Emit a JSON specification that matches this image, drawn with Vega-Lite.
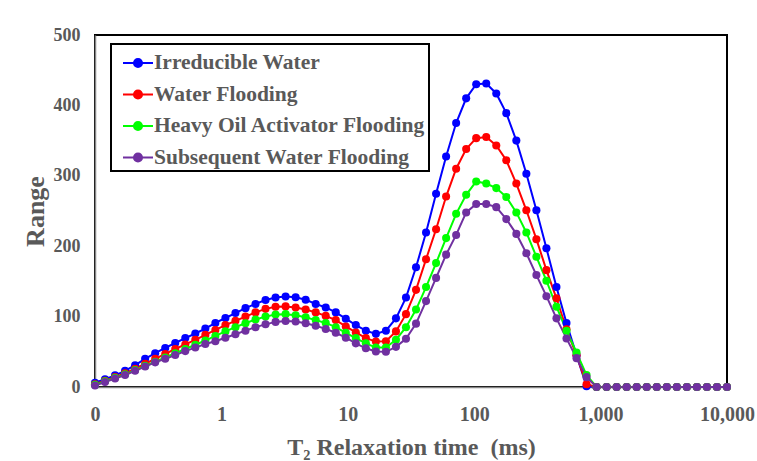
{
  "$schema": "https://vega.github.io/schema/vega-lite/v6.json",
  "width": 632,
  "height": 352,
  "autosize": "none",
  "padding": {"left": 95, "top": 35, "right": 30, "bottom": 74},
  "background": "white",
  "config": {
    "view": {"stroke": "black", "strokeWidth": 2},
    "font": "Liberation Serif"
  },
  "datasets": {
    "nmr": [
      {"T2":0.1,"Series":"Irreducible Water","Amplitude":6},{"T2":0.12,"Series":"Irreducible Water","Amplitude":11},{"T2":0.1441,"Series":"Irreducible Water","Amplitude":16.5},{"T2":0.1729,"Series":"Irreducible Water","Amplitude":23},{"T2":0.2076,"Series":"Irreducible Water","Amplitude":31},{"T2":0.2492,"Series":"Irreducible Water","Amplitude":40},{"T2":0.2993,"Series":"Irreducible Water","Amplitude":48},{"T2":0.3594,"Series":"Irreducible Water","Amplitude":55.5},{"T2":0.4313,"Series":"Irreducible Water","Amplitude":62.5},{"T2":0.5179,"Series":"Irreducible Water","Amplitude":69.5},
      {"T2":0.6217,"Series":"Irreducible Water","Amplitude":76},{"T2":0.7464,"Series":"Irreducible Water","Amplitude":83},{"T2":0.896,"Series":"Irreducible Water","Amplitude":91},{"T2":1.0758,"Series":"Irreducible Water","Amplitude":98},{"T2":1.2915,"Series":"Irreducible Water","Amplitude":105},{"T2":1.5505,"Series":"Irreducible Water","Amplitude":112},{"T2":1.8613,"Series":"Irreducible Water","Amplitude":118},{"T2":2.2346,"Series":"Irreducible Water","Amplitude":123.5},{"T2":2.6827,"Series":"Irreducible Water","Amplitude":127},{"T2":3.2206,"Series":"Irreducible Water","Amplitude":128.5},
      {"T2":3.8664,"Series":"Irreducible Water","Amplitude":127.5},{"T2":4.6416,"Series":"Irreducible Water","Amplitude":124},{"T2":5.5722,"Series":"Irreducible Water","Amplitude":118},{"T2":6.6897,"Series":"Irreducible Water","Amplitude":113},{"T2":8.0312,"Series":"Irreducible Water","Amplitude":106},{"T2":9.6412,"Series":"Irreducible Water","Amplitude":97},{"T2":11.575,"Series":"Irreducible Water","Amplitude":88},{"T2":13.895,"Series":"Irreducible Water","Amplitude":80},{"T2":16.681,"Series":"Irreducible Water","Amplitude":75.5},{"T2":20.026,"Series":"Irreducible Water","Amplitude":80},
      {"T2":24.041,"Series":"Irreducible Water","Amplitude":97.5},{"T2":28.862,"Series":"Irreducible Water","Amplitude":127},{"T2":34.649,"Series":"Irreducible Water","Amplitude":170},{"T2":41.595,"Series":"Irreducible Water","Amplitude":219.5},{"T2":49.935,"Series":"Irreducible Water","Amplitude":274.5},{"T2":59.948,"Series":"Irreducible Water","Amplitude":327.5},{"T2":71.969,"Series":"Irreducible Water","Amplitude":375},{"T2":86.4,"Series":"Irreducible Water","Amplitude":410},{"T2":103.72,"Series":"Irreducible Water","Amplitude":430},{"T2":124.52,"Series":"Irreducible Water","Amplitude":431},
      {"T2":149.49,"Series":"Irreducible Water","Amplitude":417},{"T2":179.46,"Series":"Irreducible Water","Amplitude":389},{"T2":215.44,"Series":"Irreducible Water","Amplitude":350},{"T2":258.64,"Series":"Irreducible Water","Amplitude":303},{"T2":310.5,"Series":"Irreducible Water","Amplitude":251},{"T2":372.76,"Series":"Irreducible Water","Amplitude":197},{"T2":447.5,"Series":"Irreducible Water","Amplitude":142},{"T2":537.23,"Series":"Irreducible Water","Amplitude":91},{"T2":644.95,"Series":"Irreducible Water","Amplitude":45},{"T2":774.26,"Series":"Irreducible Water","Amplitude":1},
      {"T2":929.51,"Series":"Irreducible Water","Amplitude":0},{"T2":1115.9,"Series":"Irreducible Water","Amplitude":0},{"T2":1339.6,"Series":"Irreducible Water","Amplitude":0},{"T2":1608.2,"Series":"Irreducible Water","Amplitude":0},{"T2":1930.7,"Series":"Irreducible Water","Amplitude":0},{"T2":2317.9,"Series":"Irreducible Water","Amplitude":0},{"T2":2782.6,"Series":"Irreducible Water","Amplitude":0},{"T2":3340.6,"Series":"Irreducible Water","Amplitude":0},{"T2":4010.4,"Series":"Irreducible Water","Amplitude":0},{"T2":4814.5,"Series":"Irreducible Water","Amplitude":0},{"T2":5779.9,"Series":"Irreducible Water","Amplitude":0},{"T2":6938.9,"Series":"Irreducible Water","Amplitude":0},{"T2":8330.1,"Series":"Irreducible Water","Amplitude":0},{"T2":10000,"Series":"Irreducible Water","Amplitude":0},

      {"T2":0.1,"Series":"Water Flooding","Amplitude":4},{"T2":0.12,"Series":"Water Flooding","Amplitude":9},{"T2":0.1441,"Series":"Water Flooding","Amplitude":14},{"T2":0.1729,"Series":"Water Flooding","Amplitude":19.5},{"T2":0.2076,"Series":"Water Flooding","Amplitude":26},{"T2":0.2492,"Series":"Water Flooding","Amplitude":33},{"T2":0.2993,"Series":"Water Flooding","Amplitude":40},{"T2":0.3594,"Series":"Water Flooding","Amplitude":47},{"T2":0.4313,"Series":"Water Flooding","Amplitude":54},{"T2":0.5179,"Series":"Water Flooding","Amplitude":60.5},
      {"T2":0.6217,"Series":"Water Flooding","Amplitude":67},{"T2":0.7464,"Series":"Water Flooding","Amplitude":74},{"T2":0.896,"Series":"Water Flooding","Amplitude":81},{"T2":1.0758,"Series":"Water Flooding","Amplitude":88},{"T2":1.2915,"Series":"Water Flooding","Amplitude":94},{"T2":1.5505,"Series":"Water Flooding","Amplitude":100},{"T2":1.8613,"Series":"Water Flooding","Amplitude":106},{"T2":2.2346,"Series":"Water Flooding","Amplitude":111},{"T2":2.6827,"Series":"Water Flooding","Amplitude":114},{"T2":3.2206,"Series":"Water Flooding","Amplitude":114.5},
      {"T2":3.8664,"Series":"Water Flooding","Amplitude":113},{"T2":4.6416,"Series":"Water Flooding","Amplitude":110},{"T2":5.5722,"Series":"Water Flooding","Amplitude":106},{"T2":6.6897,"Series":"Water Flooding","Amplitude":101},{"T2":8.0312,"Series":"Water Flooding","Amplitude":95},{"T2":9.6412,"Series":"Water Flooding","Amplitude":86},{"T2":11.575,"Series":"Water Flooding","Amplitude":77.5},{"T2":13.895,"Series":"Water Flooding","Amplitude":69.5},{"T2":16.681,"Series":"Water Flooding","Amplitude":64.5},{"T2":20.026,"Series":"Water Flooding","Amplitude":65},
      {"T2":24.041,"Series":"Water Flooding","Amplitude":79},{"T2":28.862,"Series":"Water Flooding","Amplitude":103.5},{"T2":34.649,"Series":"Water Flooding","Amplitude":138},{"T2":41.595,"Series":"Water Flooding","Amplitude":181.5},{"T2":49.935,"Series":"Water Flooding","Amplitude":224},{"T2":59.948,"Series":"Water Flooding","Amplitude":270.5},{"T2":71.969,"Series":"Water Flooding","Amplitude":310},{"T2":86.4,"Series":"Water Flooding","Amplitude":338},{"T2":103.72,"Series":"Water Flooding","Amplitude":353.5},{"T2":124.52,"Series":"Water Flooding","Amplitude":355},
      {"T2":149.49,"Series":"Water Flooding","Amplitude":343},{"T2":179.46,"Series":"Water Flooding","Amplitude":322},{"T2":215.44,"Series":"Water Flooding","Amplitude":289},{"T2":258.64,"Series":"Water Flooding","Amplitude":251},{"T2":310.5,"Series":"Water Flooding","Amplitude":210},{"T2":372.76,"Series":"Water Flooding","Amplitude":166},{"T2":447.5,"Series":"Water Flooding","Amplitude":126},{"T2":537.23,"Series":"Water Flooding","Amplitude":82},{"T2":644.95,"Series":"Water Flooding","Amplitude":45},{"T2":774.26,"Series":"Water Flooding","Amplitude":4},
      {"T2":929.51,"Series":"Water Flooding","Amplitude":0},{"T2":1115.9,"Series":"Water Flooding","Amplitude":0},{"T2":1339.6,"Series":"Water Flooding","Amplitude":0},{"T2":1608.2,"Series":"Water Flooding","Amplitude":0},{"T2":1930.7,"Series":"Water Flooding","Amplitude":0},{"T2":2317.9,"Series":"Water Flooding","Amplitude":0},{"T2":2782.6,"Series":"Water Flooding","Amplitude":0},{"T2":3340.6,"Series":"Water Flooding","Amplitude":0},{"T2":4010.4,"Series":"Water Flooding","Amplitude":0},{"T2":4814.5,"Series":"Water Flooding","Amplitude":0},{"T2":5779.9,"Series":"Water Flooding","Amplitude":0},{"T2":6938.9,"Series":"Water Flooding","Amplitude":0},{"T2":8330.1,"Series":"Water Flooding","Amplitude":0},{"T2":10000,"Series":"Water Flooding","Amplitude":0},

      {"T2":0.1,"Series":"Heavy Oil Activator Flooding","Amplitude":3},{"T2":0.12,"Series":"Heavy Oil Activator Flooding","Amplitude":8},{"T2":0.1441,"Series":"Heavy Oil Activator Flooding","Amplitude":13},{"T2":0.1729,"Series":"Heavy Oil Activator Flooding","Amplitude":18},{"T2":0.2076,"Series":"Heavy Oil Activator Flooding","Amplitude":24},{"T2":0.2492,"Series":"Heavy Oil Activator Flooding","Amplitude":30},{"T2":0.2993,"Series":"Heavy Oil Activator Flooding","Amplitude":36},{"T2":0.3594,"Series":"Heavy Oil Activator Flooding","Amplitude":42},{"T2":0.4313,"Series":"Heavy Oil Activator Flooding","Amplitude":48},{"T2":0.5179,"Series":"Heavy Oil Activator Flooding","Amplitude":54},
      {"T2":0.6217,"Series":"Heavy Oil Activator Flooding","Amplitude":60},{"T2":0.7464,"Series":"Heavy Oil Activator Flooding","Amplitude":66},{"T2":0.896,"Series":"Heavy Oil Activator Flooding","Amplitude":72.5},{"T2":1.0758,"Series":"Heavy Oil Activator Flooding","Amplitude":79},{"T2":1.2915,"Series":"Heavy Oil Activator Flooding","Amplitude":85},{"T2":1.5505,"Series":"Heavy Oil Activator Flooding","Amplitude":90.5},{"T2":1.8613,"Series":"Heavy Oil Activator Flooding","Amplitude":96},{"T2":2.2346,"Series":"Heavy Oil Activator Flooding","Amplitude":100},{"T2":2.6827,"Series":"Heavy Oil Activator Flooding","Amplitude":103},{"T2":3.2206,"Series":"Heavy Oil Activator Flooding","Amplitude":103.5},
      {"T2":3.8664,"Series":"Heavy Oil Activator Flooding","Amplitude":102},{"T2":4.6416,"Series":"Heavy Oil Activator Flooding","Amplitude":99},{"T2":5.5722,"Series":"Heavy Oil Activator Flooding","Amplitude":95},{"T2":6.6897,"Series":"Heavy Oil Activator Flooding","Amplitude":91},{"T2":8.0312,"Series":"Heavy Oil Activator Flooding","Amplitude":85},{"T2":9.6412,"Series":"Heavy Oil Activator Flooding","Amplitude":77},{"T2":11.575,"Series":"Heavy Oil Activator Flooding","Amplitude":69.5},{"T2":13.895,"Series":"Heavy Oil Activator Flooding","Amplitude":62},{"T2":16.681,"Series":"Heavy Oil Activator Flooding","Amplitude":56},{"T2":20.026,"Series":"Heavy Oil Activator Flooding","Amplitude":56},
      {"T2":24.041,"Series":"Heavy Oil Activator Flooding","Amplitude":67},{"T2":28.862,"Series":"Heavy Oil Activator Flooding","Amplitude":85},{"T2":34.649,"Series":"Heavy Oil Activator Flooding","Amplitude":110},{"T2":41.595,"Series":"Heavy Oil Activator Flooding","Amplitude":142},{"T2":49.935,"Series":"Heavy Oil Activator Flooding","Amplitude":176},{"T2":59.948,"Series":"Heavy Oil Activator Flooding","Amplitude":211.5},{"T2":71.969,"Series":"Heavy Oil Activator Flooding","Amplitude":246},{"T2":86.4,"Series":"Heavy Oil Activator Flooding","Amplitude":273},{"T2":103.72,"Series":"Heavy Oil Activator Flooding","Amplitude":292},{"T2":124.52,"Series":"Heavy Oil Activator Flooding","Amplitude":289},
      {"T2":149.49,"Series":"Heavy Oil Activator Flooding","Amplitude":282.5},{"T2":179.46,"Series":"Heavy Oil Activator Flooding","Amplitude":270},{"T2":215.44,"Series":"Heavy Oil Activator Flooding","Amplitude":248},{"T2":258.64,"Series":"Heavy Oil Activator Flooding","Amplitude":219.5},{"T2":310.5,"Series":"Heavy Oil Activator Flooding","Amplitude":185},{"T2":372.76,"Series":"Heavy Oil Activator Flooding","Amplitude":151},{"T2":447.5,"Series":"Heavy Oil Activator Flooding","Amplitude":114},{"T2":537.23,"Series":"Heavy Oil Activator Flooding","Amplitude":80},{"T2":644.95,"Series":"Heavy Oil Activator Flooding","Amplitude":49},{"T2":774.26,"Series":"Heavy Oil Activator Flooding","Amplitude":17},
      {"T2":929.51,"Series":"Heavy Oil Activator Flooding","Amplitude":0},{"T2":1115.9,"Series":"Heavy Oil Activator Flooding","Amplitude":0},{"T2":1339.6,"Series":"Heavy Oil Activator Flooding","Amplitude":0},{"T2":1608.2,"Series":"Heavy Oil Activator Flooding","Amplitude":0},{"T2":1930.7,"Series":"Heavy Oil Activator Flooding","Amplitude":0},{"T2":2317.9,"Series":"Heavy Oil Activator Flooding","Amplitude":0},{"T2":2782.6,"Series":"Heavy Oil Activator Flooding","Amplitude":0},{"T2":3340.6,"Series":"Heavy Oil Activator Flooding","Amplitude":0},{"T2":4010.4,"Series":"Heavy Oil Activator Flooding","Amplitude":0},{"T2":4814.5,"Series":"Heavy Oil Activator Flooding","Amplitude":0},{"T2":5779.9,"Series":"Heavy Oil Activator Flooding","Amplitude":0},{"T2":6938.9,"Series":"Heavy Oil Activator Flooding","Amplitude":0},{"T2":8330.1,"Series":"Heavy Oil Activator Flooding","Amplitude":0},{"T2":10000,"Series":"Heavy Oil Activator Flooding","Amplitude":0},

      {"T2":0.1,"Series":"Subsequent Water Flooding","Amplitude":2},{"T2":0.12,"Series":"Subsequent Water Flooding","Amplitude":7},{"T2":0.1441,"Series":"Subsequent Water Flooding","Amplitude":12},{"T2":0.1729,"Series":"Subsequent Water Flooding","Amplitude":17},{"T2":0.2076,"Series":"Subsequent Water Flooding","Amplitude":23},{"T2":0.2492,"Series":"Subsequent Water Flooding","Amplitude":29},{"T2":0.2993,"Series":"Subsequent Water Flooding","Amplitude":35},{"T2":0.3594,"Series":"Subsequent Water Flooding","Amplitude":40},{"T2":0.4313,"Series":"Subsequent Water Flooding","Amplitude":45.5},{"T2":0.5179,"Series":"Subsequent Water Flooding","Amplitude":51},
      {"T2":0.6217,"Series":"Subsequent Water Flooding","Amplitude":56},{"T2":0.7464,"Series":"Subsequent Water Flooding","Amplitude":61},{"T2":0.896,"Series":"Subsequent Water Flooding","Amplitude":65},{"T2":1.0758,"Series":"Subsequent Water Flooding","Amplitude":70},{"T2":1.2915,"Series":"Subsequent Water Flooding","Amplitude":75},{"T2":1.5505,"Series":"Subsequent Water Flooding","Amplitude":80},{"T2":1.8613,"Series":"Subsequent Water Flooding","Amplitude":85},{"T2":2.2346,"Series":"Subsequent Water Flooding","Amplitude":89},{"T2":2.6827,"Series":"Subsequent Water Flooding","Amplitude":92.5},{"T2":3.2206,"Series":"Subsequent Water Flooding","Amplitude":93.7},
      {"T2":3.8664,"Series":"Subsequent Water Flooding","Amplitude":93},{"T2":4.6416,"Series":"Subsequent Water Flooding","Amplitude":90.5},{"T2":5.5722,"Series":"Subsequent Water Flooding","Amplitude":87},{"T2":6.6897,"Series":"Subsequent Water Flooding","Amplitude":82.5},{"T2":8.0312,"Series":"Subsequent Water Flooding","Amplitude":77},{"T2":9.6412,"Series":"Subsequent Water Flooding","Amplitude":70},{"T2":11.575,"Series":"Subsequent Water Flooding","Amplitude":62},{"T2":13.895,"Series":"Subsequent Water Flooding","Amplitude":55},{"T2":16.681,"Series":"Subsequent Water Flooding","Amplitude":50.5},{"T2":20.026,"Series":"Subsequent Water Flooding","Amplitude":50},
      {"T2":24.041,"Series":"Subsequent Water Flooding","Amplitude":57},{"T2":28.862,"Series":"Subsequent Water Flooding","Amplitude":68.5},{"T2":34.649,"Series":"Subsequent Water Flooding","Amplitude":90},{"T2":41.595,"Series":"Subsequent Water Flooding","Amplitude":122},{"T2":49.935,"Series":"Subsequent Water Flooding","Amplitude":155},{"T2":59.948,"Series":"Subsequent Water Flooding","Amplitude":188},{"T2":71.969,"Series":"Subsequent Water Flooding","Amplitude":216},{"T2":86.4,"Series":"Subsequent Water Flooding","Amplitude":248},{"T2":103.72,"Series":"Subsequent Water Flooding","Amplitude":260},{"T2":124.52,"Series":"Subsequent Water Flooding","Amplitude":260},
      {"T2":149.49,"Series":"Subsequent Water Flooding","Amplitude":255.5},{"T2":179.46,"Series":"Subsequent Water Flooding","Amplitude":238.5},{"T2":215.44,"Series":"Subsequent Water Flooding","Amplitude":217.5},{"T2":258.64,"Series":"Subsequent Water Flooding","Amplitude":190},{"T2":310.5,"Series":"Subsequent Water Flooding","Amplitude":159},{"T2":372.76,"Series":"Subsequent Water Flooding","Amplitude":129},{"T2":447.5,"Series":"Subsequent Water Flooding","Amplitude":97.5},{"T2":537.23,"Series":"Subsequent Water Flooding","Amplitude":69},{"T2":644.95,"Series":"Subsequent Water Flooding","Amplitude":41},{"T2":774.26,"Series":"Subsequent Water Flooding","Amplitude":14},
      {"T2":929.51,"Series":"Subsequent Water Flooding","Amplitude":0},{"T2":1115.9,"Series":"Subsequent Water Flooding","Amplitude":0},{"T2":1339.6,"Series":"Subsequent Water Flooding","Amplitude":0},{"T2":1608.2,"Series":"Subsequent Water Flooding","Amplitude":0},{"T2":1930.7,"Series":"Subsequent Water Flooding","Amplitude":0},{"T2":2317.9,"Series":"Subsequent Water Flooding","Amplitude":0},{"T2":2782.6,"Series":"Subsequent Water Flooding","Amplitude":0},{"T2":3340.6,"Series":"Subsequent Water Flooding","Amplitude":0},{"T2":4010.4,"Series":"Subsequent Water Flooding","Amplitude":0},{"T2":4814.5,"Series":"Subsequent Water Flooding","Amplitude":0},{"T2":5779.9,"Series":"Subsequent Water Flooding","Amplitude":0},{"T2":6938.9,"Series":"Subsequent Water Flooding","Amplitude":0},{"T2":8330.1,"Series":"Subsequent Water Flooding","Amplitude":0},{"T2":10000,"Series":"Subsequent Water Flooding","Amplitude":0}
    ]
  },
  "data": {"name": "nmr"},
  "encoding": {
    "x": {
      "field": "T2",
      "type": "quantitative",
      "scale": {"type": "log", "domain": [0.1, 10000], "nice": false},
      "axis": {
        "values": [0.1, 1, 10, 100, 1000, 10000],
        "labelExpr": "datum.value < 0.5 ? '0' : format(datum.value, ',')",
        "ticks": false,
        "grid": false,
        "domainColor": "#868686",
        "domainWidth": 1.5,
        "labelFont": "Liberation Serif",
        "labelFontWeight": "bold",
        "labelFontSize": 20,
        "labelColor": "#595959",
        "labelPadding": 17,
        "labelFlush": false,
        "labelBound": false,
        "labelOverlap": false,
        "title": "T₂ Relaxation time\u00a0 (ms)",
        "titleFont": "Liberation Serif",
        "titleFontWeight": "bold",
        "titleFontSize": 24,
        "titleColor": "#595959",
        "titlePadding": 11
      }
    },
    "y": {
      "field": "Amplitude",
      "type": "quantitative",
      "scale": {"domain": [0, 500], "nice": false},
      "axis": {
        "values": [0, 100, 200, 300, 400, 500],
        "ticks": false,
        "grid": false,
        "domainColor": "#868686",
        "domainWidth": 1.5,
        "labelFont": "Liberation Serif",
        "labelFontWeight": "bold",
        "labelFontSize": 18,
        "labelColor": "#595959",
        "labelPadding": 15,
        "title": "Range",
        "titleFont": "Liberation Serif",
        "titleFontWeight": "bold",
        "titleFontSize": 26,
        "titleColor": "#595959",
        "titlePadding": 5
      }
    },
    "color": {
      "field": "Series",
      "type": "nominal",
      "scale": {
        "domain": ["Irreducible Water", "Water Flooding", "Heavy Oil Activator Flooding", "Subsequent Water Flooding"],
        "range": ["#0000FF", "#FF0000", "#00FF00", "#7030A0"]
      },
      "legend": {
        "title": null,
        "orient": "none",
        "legendX": 16,
        "legendY": 9,
        "padding": 3,
        "strokeColor": "black",
        "fillColor": "white",
        "symbolType": "M-1,0H1M-0.27,0A0.27,0.27,0,1,0,0.27,0A0.27,0.27,0,1,0,-0.27,0Z",
        "symbolSize": 900,
        "symbolStrokeWidth": 2,
        "symbolOffset": 8,
        "labelFont": "Liberation Serif",
        "labelFontWeight": "bold",
        "labelFontSize": 21.5,
        "labelColor": "#595959",
        "labelLimit": 400,
        "labelOffset": 0,
        "rowPadding": 4.5,
        "encode": {
          "legend": {"update": {"strokeWidth": {"value": 2}}},
          "symbols": {"update": {"stroke": {"scale": "color", "field": "value"}, "fill": {"scale": "color", "field": "value"}, "opacity": {"value": 1}}}
        }
      }
    }
  },
  "layer": [
    {"mark": {"type": "line", "strokeWidth": 2}},
    {"mark": {"type": "point", "filled": true, "size": 65, "opacity": 1}}
  ]
}
